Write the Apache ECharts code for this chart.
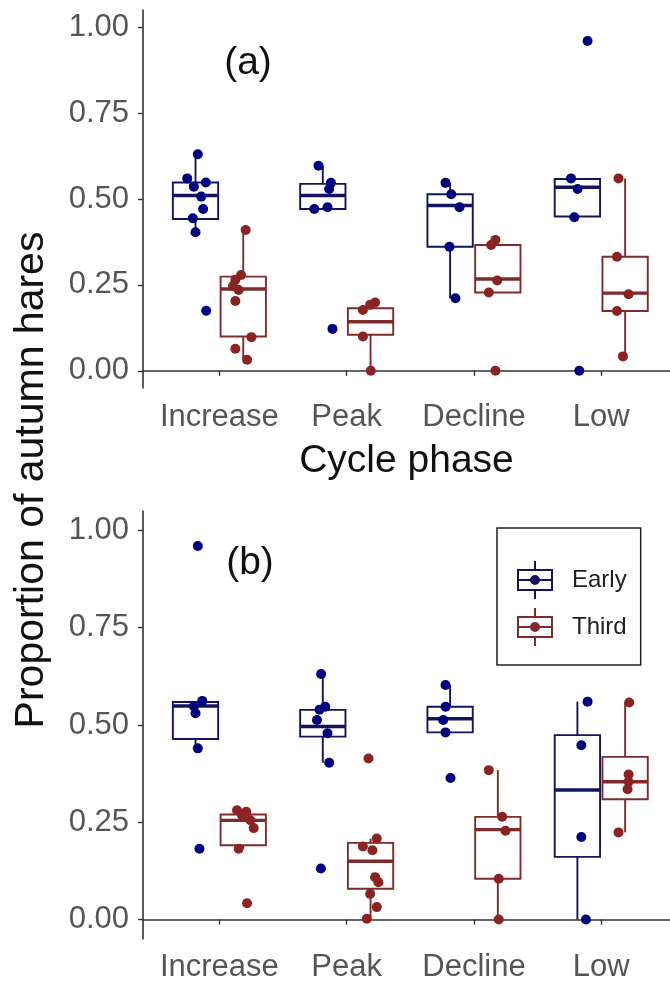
<!DOCTYPE html>
<html>
<head>
<meta charset="utf-8">
<script src="https://cdn.jsdelivr.net/npm/echarts@6/dist/echarts.min.js"></script>
<style>
html,body{margin:0;padding:0;background:#fff;}
#chart{width:670px;height:987px;}
</style>
</head>
<body>
<div id="chart"></div>
<script>
// ---------------- DATA ----------------
const categories = ['Increase', 'Peak', 'Decline', 'Low'];
const groupNames = ['Early', 'Third'];
const yTicks = [0, 0.25, 0.5, 0.75, 1];

// Panel (a): box stats per phase [lowerWhisker, Q1, median, Q3, upperWhisker]
const aEarlyBox = [
  [0.403, 0.442, 0.510, 0.548, 0.630],
  [0.471, 0.471, 0.510, 0.544, 0.597],
  [0.211, 0.361, 0.481, 0.514, 0.547],
  [0.449, 0.449, 0.534, 0.558, 0.558]
];
const aThirdBox = [
  [0.032, 0.100, 0.238, 0.274, 0.410],
  [0.000, 0.105, 0.143, 0.182, 0.199],
  [0.228, 0.228, 0.267, 0.366, 0.381],
  [0.042, 0.174, 0.226, 0.332, 0.560]
];
// Panel (a): individual points per phase, and their jitter (x offset, category units)
const aEarlyPts = [
  [0.630, 0.560, 0.536, 0.548, 0.507, 0.471, 0.444, 0.403, 0.175],
  [0.597, 0.547, 0.529, 0.471, 0.476, 0.122],
  [0.547, 0.514, 0.476, 0.361, 0.211],
  [0.560, 0.529, 0.447, 0.960, 0.000]
];
const aEarlyJit = [
  [0.018, -0.065, -0.013, 0.081, 0.045, 0.060, -0.021, 0.000, 0.084],
  [-0.034, 0.064, 0.050, -0.067, 0.037, 0.076],
  [-0.036, 0.009, 0.074, -0.005, 0.042],
  [-0.050, 0.002, -0.024, 0.080, 0.015]
];
const aThirdPts = [
  [0.410, 0.279, 0.265, 0.247, 0.235, 0.203, 0.098, 0.064, 0.032],
  [0.199, 0.192, 0.177, 0.100, 0.000],
  [0.381, 0.366, 0.263, 0.228, 0.000],
  [0.560, 0.332, 0.223, 0.174, 0.042]
];
const aThirdJit = [
  [0.019, -0.017, -0.062, -0.080, -0.036, -0.062, 0.064, -0.062, 0.030],
  [0.036, -0.003, -0.060, -0.060, 0.002],
  [-0.019, -0.053, -0.005, -0.071, -0.019],
  [-0.052, -0.064, 0.027, -0.064, -0.017]
];

// Panel (b)
const bEarlyBox = [
  [0.440, 0.464, 0.549, 0.559, 0.562],
  [0.403, 0.470, 0.496, 0.539, 0.631],
  [0.481, 0.481, 0.516, 0.547, 0.603],
  [0.000, 0.161, 0.333, 0.474, 0.560]
];
const bThirdBox = [
  [0.182, 0.191, 0.255, 0.270, 0.281],
  [0.000, 0.079, 0.150, 0.197, 0.208],
  [0.000, 0.105, 0.231, 0.264, 0.384],
  [0.224, 0.309, 0.354, 0.418, 0.558]
];
const bEarlyPts = [
  [0.562, 0.548, 0.530, 0.440, 0.960, 0.182],
  [0.631, 0.547, 0.539, 0.513, 0.479, 0.403, 0.131],
  [0.603, 0.547, 0.513, 0.481, 0.364],
  [0.560, 0.448, 0.212, 0.000]
];
const bEarlyJit = [
  [0.053, -0.013, 0.000, 0.018, 0.018, 0.031],
  [-0.013, 0.019, -0.026, -0.046, 0.037, 0.050, -0.015],
  [-0.036, -0.036, -0.054, -0.036, 0.003],
  [0.080, 0.031, 0.031, 0.067]
];
const bThirdPts = [
  [0.281, 0.277, 0.268, 0.255, 0.235, 0.182, 0.042],
  [0.414, 0.208, 0.188, 0.178, 0.109, 0.096, 0.066, 0.032, 0.002],
  [0.384, 0.264, 0.228, 0.105, 0.000],
  [0.558, 0.373, 0.354, 0.335, 0.224]
];
const bThirdJit = [
  [-0.049, 0.024, -0.009, 0.056, 0.082, -0.036, 0.030],
  [-0.016, 0.049, -0.060, 0.015, 0.036, 0.062, -0.003, 0.049, -0.029],
  [-0.071, 0.034, 0.060, 0.007, 0.007],
  [0.032, 0.027, 0.027, 0.019, -0.052]
];

// ---------------- STYLE ----------------
const EARLY_COLOR = '#000080';
const THIRD_COLOR = '#8B2323';
const EARLY_LINE = '#14145e';
const THIRD_LINE = '#7e2b2b';
const DODGE = 0.1875;
const BOX_HALF = 0.178;
const FONT = '"Liberation Sans", Arial, Helvetica, sans-serif';

function boxData(stats, dodge) {
  return stats.map((s, i) => [i + 1 + dodge].concat(s));
}
function pointData(vals, jit, dodge) {
  const out = [];
  vals.forEach((arr, i) => arr.forEach((v, j) => out.push([i + 1 + dodge + jit[i][j], v])));
  return out;
}

function renderBox(params, api) {
  const x = api.value(0), lw = api.value(1), q1 = api.value(2), med = api.value(3), q3 = api.value(4), uw = api.value(5);
  const color = api.visual('color');
  const tl = api.coord([x - BOX_HALF, q3]);
  const br = api.coord([x + BOX_HALF, q1]);
  const ml = api.coord([x - BOX_HALF, med]);
  const mr = api.coord([x + BOX_HALF, med]);
  const top = api.coord([x, q3]);
  const up = api.coord([x, uw]);
  const bot = api.coord([x, q1]);
  const low = api.coord([x, lw]);
  const ls = {stroke: color, lineWidth: 1.9};
  return {
    type: 'group',
    children: [
      {type: 'line', shape: {x1: top[0], y1: top[1], x2: up[0], y2: up[1]}, style: ls},
      {type: 'line', shape: {x1: bot[0], y1: bot[1], x2: low[0], y2: low[1]}, style: ls},
      {type: 'rect', shape: {x: tl[0], y: tl[1], width: br[0] - tl[0], height: br[1] - tl[1]},
        style: {fill: '#fff', stroke: color, lineWidth: 1.9}},
      {type: 'line', shape: {x1: ml[0], y1: ml[1], x2: mr[0], y2: mr[1]}, style: {stroke: color, lineWidth: 3.4}}
    ]
  };
}

function xAxisCfg(gridIndex, withName, labelMargin) {
  return {
    type: 'value', gridIndex: gridIndex, min: 0.4, max: 4.54,
    splitLine: {show: false},
    axisLine: {show: true, lineStyle: {color: '#333', width: 1.6}},
    axisTick: {show: true, length: 5, lineStyle: {color: '#333', width: 1.4}, customValues: [1, 2, 3, 4]},
    axisLabel: {customValues: [1, 2, 3, 4], formatter: v => categories[Math.round(v) - 1] || '',
      color: '#555', fontSize: 31, fontFamily: FONT, margin: labelMargin},
    name: withName ? 'Cycle phase' : '',
    nameLocation: 'middle', nameGap: 54,
    nameTextStyle: {color: '#111', fontSize: 39, fontFamily: FONT}
  };
}
function yAxisCfg(gridIndex) {
  return {
    type: 'value', gridIndex: gridIndex, min: -0.05, max: 1.05,
    splitLine: {show: false},
    axisLine: {show: true, lineStyle: {color: '#333', width: 1.6}},
    axisTick: {show: true, length: 5, lineStyle: {color: '#333', width: 1.4}, customValues: yTicks},
    axisLabel: {customValues: yTicks, formatter: v => v.toFixed(2),
      color: '#555', fontSize: 31, fontFamily: FONT, margin: 14}
  };
}

const legendIcon = 'path://M0 8 L36 8 L36 30 L0 30 Z M2 10 L2 28 L34 28 L34 10 Z ' +
  'M2 18 L34 18 L34 20 L2 20 Z M17 0 L19 0 L19 8 L17 8 Z M17 30 L19 30 L19 38 L17 38 Z ' +
  'M13 19 A5 5 0 1 1 23 19 A5 5 0 1 1 13 19 Z';

const series = [];
[[aEarlyBox, aThirdBox, aEarlyPts, aEarlyJit, aThirdPts, aThirdJit],
 [bEarlyBox, bThirdBox, bEarlyPts, bEarlyJit, bThirdPts, bThirdJit]].forEach((p, gi) => {
  series.push({
    name: 'Early', type: 'custom', xAxisIndex: gi, yAxisIndex: gi,
    renderItem: renderBox, itemStyle: {color: EARLY_LINE},
    encode: {x: 0, y: [1, 2, 3, 4, 5]}, data: boxData(p[0], -DODGE), z: 2
  });
  series.push({
    name: 'Third', type: 'custom', xAxisIndex: gi, yAxisIndex: gi,
    renderItem: renderBox, itemStyle: {color: THIRD_LINE},
    encode: {x: 0, y: [1, 2, 3, 4, 5]}, data: boxData(p[1], DODGE), z: 2
  });
  series.push({
    name: 'Early', type: 'scatter', xAxisIndex: gi, yAxisIndex: gi,
    symbolSize: 10, itemStyle: {color: EARLY_COLOR, opacity: 1},
    data: pointData(p[2], p[3], -DODGE), z: 3
  });
  series.push({
    name: 'Third', type: 'scatter', xAxisIndex: gi, yAxisIndex: gi,
    symbolSize: 10, itemStyle: {color: THIRD_COLOR, opacity: 1},
    data: pointData(p[4], p[5], DODGE), z: 3
  });
});

const chart = echarts.init(document.getElementById('chart'), null, {renderer: 'canvas'});
chart.setOption({
  backgroundColor: '#fff',
  animation: false,
  grid: [
    {left: 143, top: 10, right: 0, height: 378},
    {left: 143, top: 511, right: 0, height: 428}
  ],
  xAxis: [xAxisCfg(0, true, 14), xAxisCfg(1, false, 13)],
  yAxis: [yAxisCfg(0), yAxisCfg(1)],
  legend: {
    left: 497, top: 528, orient: 'vertical',
    padding: [33, 14, 19, 20], itemGap: 9,
    itemWidth: 36, itemHeight: 38,
    borderColor: '#222', borderWidth: 1.5,
    selectedMode: false,
    textStyle: {fontSize: 24, color: '#222', fontFamily: FONT, padding: [0, 0, 0, 14]},
    data: [
      {name: 'Early', icon: legendIcon, itemStyle: {color: EARLY_LINE, borderWidth: 0}},
      {name: 'Third', icon: legendIcon, itemStyle: {color: THIRD_LINE, borderWidth: 0}}
    ]
  },
  graphic: [
    {type: 'text', x: 32, y: 480, rotation: Math.PI / 2,
      style: {text: 'Proportion of autumn hares', fill: '#111', font: '41px ' + FONT, align: 'center', verticalAlign: 'middle'}},
    {type: 'text', x: 248, y: 63,
      style: {text: '(a)', fill: '#111', font: '39px ' + FONT, align: 'center', verticalAlign: 'middle'}},
    {type: 'text', x: 250, y: 563,
      style: {text: '(b)', fill: '#111', font: '39px ' + FONT, align: 'center', verticalAlign: 'middle'}}
  ],
  series: series
});
</script>
</body>
</html>
